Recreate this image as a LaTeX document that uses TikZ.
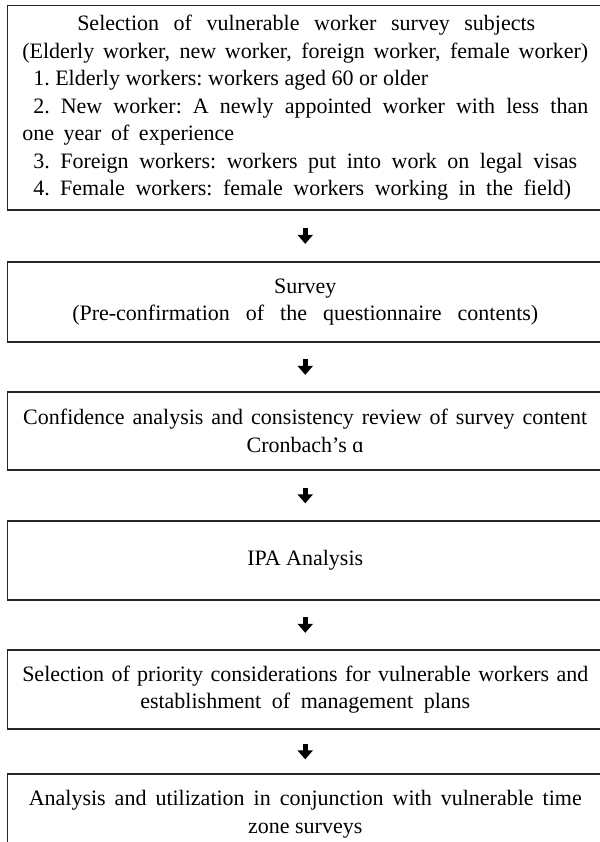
\documentclass[tikz,border=0pt]{standalone}
\usepackage{fontspec}
\setmainfont{Liberation Serif}
\usetikzlibrary{arrows.meta,calc}
\setlength{\parindent}{0pt}
\newcommand\fitline[2]{\makebox[#1][s]{\spaceskip=.25em plus 1fil\relax\xspaceskip=\spaceskip #2}}
\begin{document}
\begin{tikzpicture}[x=1pt,y=-1pt,
  box/.style={draw=black!85, line width=1.3pt, minimum width=595.5pt, inner sep=0pt,
    font=\fontsize{22}{27.5}\selectfont, align=center},
  arr/.style={black, line width=5pt, -{Triangle[width=15pt,length=9pt]}}]
\useasboundingbox (0,0) rectangle (599,842);
\node[box, minimum height=204.5pt, text width=566pt, align=left] (b1) at (305.25,107.75)
 {\hspace*{55pt}\fitline{458pt}{Selection of vulnerable worker survey subjects}\\
  \fitline{566pt}{(Elderly worker, new worker, foreign worker, female worker)}\\
  \hspace*{11pt}\fitline{395pt}{1. Elderly workers: workers aged 60 or older}\\
  \hspace*{11pt}\fitline{555pt}{2. New worker: A newly appointed worker with less than}\\
  \fitline{212pt}{one year of experience}\\
  \hspace*{11pt}\fitline{544pt}{3. Foreign workers: workers put into work on legal visas}\\
  \hspace*{11pt}\fitline{538pt}{4. Female workers: female workers working in the field)}};
\node[box, minimum height=80pt] (b2) at (305.25,302)
 {Survey\\\fitline{466pt}{(Pre-confirmation of the questionnaire contents)}};
\node[box, minimum height=78pt] (b3) at (305.25,431)
 {\fitline{564pt}{Confidence analysis and consistency review of survey content}\\Cronbach’s ɑ};
\node[box, minimum height=79pt] (b4) at (305.25,560.5) {IPA Analysis};
\node[box, minimum height=79pt] (b5) at (305.25,689.5)
 {\fitline{566pt}{Selection of priority considerations for vulnerable workers and}\\
  \fitline{330pt}{establishment of management plans}};
\node[box, minimum height=80pt] (b6) at (305.25,814)
 {\fitline{553pt}{Analysis and utilization in conjunction with vulnerable time}\\zone surveys};
\draw[arr, shorten <=17.5pt, shorten >=17.5pt] (b1.south) -- (b2.north);
\draw[arr, shorten <=16.5pt, shorten >=16.5pt] (b2.south) -- (b3.north);
\draw[arr, shorten <=17pt, shorten >=17pt] (b3.south) -- (b4.north);
\draw[arr, shorten <=16.5pt, shorten >=16.5pt] (b4.south) -- (b5.north);
\draw[arr, shorten <=14pt, shorten >=14pt] (b5.south) -- (b6.north);
\end{tikzpicture}
\end{document}
